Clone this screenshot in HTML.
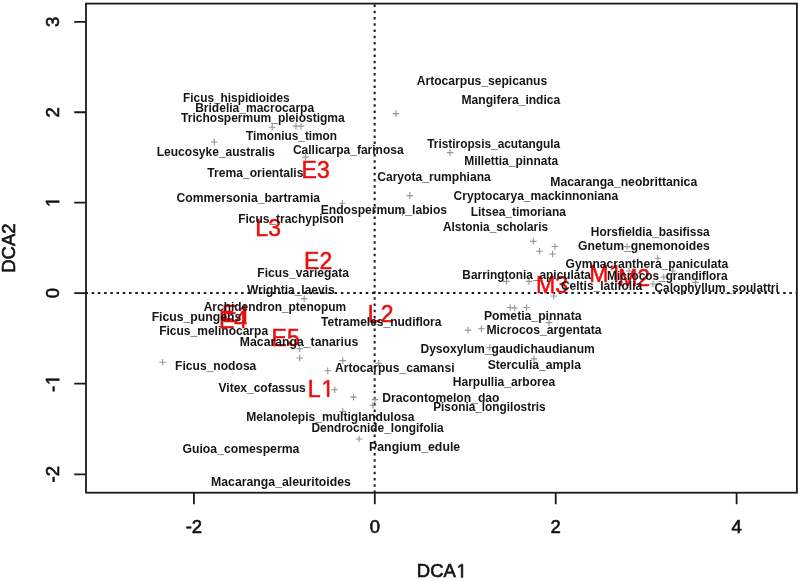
<!DOCTYPE html>
<html><head><meta charset="utf-8"><style>
html,body{margin:0;padding:0;background:#fff;overflow:hidden;}
svg{display:block;will-change:transform;}
.s{font-family:"Liberation Sans",sans-serif;font-weight:bold;font-size:12px;fill:#151515;}
.r{font-family:"Liberation Sans",sans-serif;font-size:23px;fill:#ee0c0c;stroke:#ee0c0c;stroke-width:0.5px;}
.a{font-family:"Liberation Sans",sans-serif;font-size:18.5px;fill:#111;stroke:#111;stroke-width:0.6px;}
</style></head><body>
<svg width="798" height="581" viewBox="0 0 798 581">
<rect width="798" height="581" fill="#fff"/>
<line x1="374.65" y1="4.56" x2="374.65" y2="492.7" stroke="#1a1a1a" stroke-width="2.0" stroke-dasharray="2.5 3.73"/>
<line x1="85.42" y1="293.10" x2="796.9" y2="293.10" stroke="#1a1a1a" stroke-width="2.0" stroke-dasharray="2.5 3.73"/>
<path d="M392.6 113.6h6.6M395.9 110.3v6.6M268.9 127.3h6.6M272.2 124.0v6.6M292.7 126.1h6.6M296.0 122.8v6.6M297.7 126.1h6.6M301.0 122.8v6.6M211.0 142.0h6.6M214.3 138.7v6.6M302.3 157.1h6.6M305.6 153.8v6.6M446.7 152.6h6.6M450.0 149.3v6.6M406.5 195.6h6.6M409.8 192.3v6.6M339.0 203.3h6.6M342.3 200.0v6.6M399.0 212.7h6.6M402.3 209.4v6.6M551.7 246.5h6.6M555.0 243.2v6.6M549.2 254.0h6.6M552.5 250.7v6.6M623.7 246.6h6.6M627.0 243.3v6.6M654.5 258.2h6.6M657.8 254.9v6.6M530.0 241.4h6.6M533.3 238.1v6.6M536.2 251.3h6.6M539.5 248.0v6.6M503.2 281.4h6.6M506.5 278.1v6.6M525.7 281.4h6.6M529.0 278.1v6.6M550.5 296.0h6.6M553.8 292.7v6.6M625.7 271.0h6.6M629.0 267.7v6.6M660.5 277.0h6.6M663.8 273.7v6.6M649.7 284.0h6.6M653.0 280.7v6.6M669.5 271.0h6.6M672.8 267.7v6.6M692.2 282.4h6.6M695.5 279.1v6.6M506.9 307.5h6.6M510.2 304.2v6.6M511.4 308.0h6.6M514.7 304.7v6.6M523.2 307.5h6.6M526.5 304.2v6.6M545.7 322.6h6.6M549.0 319.3v6.6M464.8 330.1h6.6M468.1 326.8v6.6M478.1 328.8h6.6M481.4 325.5v6.6M486.4 347.6h6.6M489.7 344.3v6.6M530.7 358.9h6.6M534.0 355.6v6.6M296.4 348.8h6.6M299.7 345.5v6.6M296.4 358.0h6.6M299.7 354.7v6.6M339.5 360.6h6.6M342.8 357.3v6.6M324.4 370.8h6.6M327.7 367.5v6.6M331.4 389.7h6.6M334.7 386.4v6.6M350.2 397.1h6.6M353.5 393.8v6.6M371.6 399.6h6.6M374.9 396.3v6.6M369.6 405.2h6.6M372.9 401.9v6.6M339.5 411.4h6.6M342.8 408.1v6.6M355.8 439.0h6.6M359.1 435.7v6.6M300.9 298.6h6.6M304.2 295.3v6.6M159.3 362.2h6.6M162.6 358.9v6.6M375.4 363.2h6.6M378.7 359.9v6.6" stroke="#959595" stroke-width="1.1" fill="none"/>
<text class="r" transform="translate(301.56 178.05) scale(1 1.04)">E3</text>
<text class="r" transform="translate(255.36 236.05) scale(1 1.04)">L3</text>
<text class="r" transform="translate(304.06 268.75) scale(1 1.04)">E2</text>
<text class="r" transform="translate(218.96 327.55) scale(1 1.04)">E4</text>
<text class="r" transform="translate(221.96 322.05) scale(1 1.04)">E</text>
<path d="M243.97 322.05L243.97 307.60L240.41 310.26L240.41 308.27L244.16 305.59L246.02 305.59L246.02 322.05Z" class="r"/>
<text class="r" transform="translate(271.56 345.85) scale(1 1.04)">E5</text>
<text class="r" transform="translate(367.86 322.15) scale(1 1.04)">L2</text>
<text class="r" transform="translate(307.66 396.65) scale(1 1.04)">L</text>
<path d="M327.12 396.65L327.12 382.20L323.56 384.86L323.56 382.87L327.31 380.19L329.17 380.19L329.17 396.65Z" class="r"/>
<text class="r" transform="translate(536.06 292.65) scale(1 1.04)">M3</text>
<text class="r" transform="translate(589.26 281.75) scale(1 1.04)">M</text>
<path d="M615.09 281.75L615.09 267.30L611.53 269.96L611.53 267.97L615.28 265.29L617.14 265.29L617.14 281.75Z" class="r"/>
<text class="r" transform="translate(618.16 286.15) scale(1 1.04)">M2</text>
<text class="s" transform="translate(416.75 85.10) scale(1.0093 1.04)">Artocarpus_sepicanus</text>
<text class="s" transform="translate(461.54 103.60) scale(1.0087 1.04)">Mangifera_indica</text>
<text class="s" transform="translate(183.06 102.00) scale(0.9874 1.04)">Ficus_hispidioides</text>
<text class="s" transform="translate(195.15 112.10) scale(1.0034 1.04)">Bridelia_macrocarpa</text>
<text class="s" transform="translate(181.05 122.30) scale(1.0025 1.04)">Trichospermum_pleiostigma</text>
<text class="s" transform="translate(246.05 140.40) scale(0.9858 1.04)">Timonius_timon</text>
<text class="s" transform="translate(156.75 156.20) scale(1.0021 1.04)">Leucosyke_australis</text>
<text class="s" transform="translate(292.90 153.60) scale(1 1.04)">Callicarpa_farinosa</text>
<text class="s" transform="translate(427.25 148.40) scale(0.9881 1.04)">Tristiropsis_acutangula</text>
<text class="s" transform="translate(464.15 164.70) scale(1 1.04)">Millettia_pinnata</text>
<text class="s" transform="translate(207.35 177.10) scale(1.0085 1.04)">Trema_orientalis</text>
<text class="s" transform="translate(377.20 180.70) scale(1.0094 1.04)">Caryota_rumphiana</text>
<text class="s" transform="translate(550.24 185.60) scale(1.0160 1.04)">Macaranga_neobrittanica</text>
<text class="s" transform="translate(453.60 200.00) scale(1.0043 1.04)">Cryptocarya_mackinnoniana</text>
<text class="s" transform="translate(176.49 202.10) scale(1.0160 1.04)">Commersonia_bartramia</text>
<text class="s" transform="translate(320.74 213.60) scale(1.0081 1.04)">Endospermum_labios</text>
<text class="s" transform="translate(470.65 215.90) scale(1 1.04)">Litsea_timoriana</text>
<text class="s" transform="translate(238.15 222.80) scale(0.9981 1.04)">Ficus_trachypison</text>
<text class="s" transform="translate(443.05 230.80) scale(0.9853 1.04)">Alstonia_scholaris</text>
<text class="s" transform="translate(590.86 236.10) scale(0.9904 1.04)">Horsfieldia_basifissa</text>
<text class="s" transform="translate(578.09 249.60) scale(1.0132 1.04)">Gnetum_gnemonoides</text>
<text class="s" transform="translate(257.34 277.10) scale(1.0100 1.04)">Ficus_variegata</text>
<text class="s" transform="translate(565.50 268.10) scale(1.0090 1.04)">Gymnacranthera_paniculata</text>
<text class="s" transform="translate(462.36 278.90) scale(0.9896 1.04)">Barringtonia_apiculata</text>
<text class="s" transform="translate(607.06 280.00) scale(0.9880 1.04)">Microcos_grandiflora</text>
<text class="s" transform="translate(246.90 293.80) scale(1 1.04)">Wrightia_laevis</text>
<text class="s" transform="translate(560.90 290.20) scale(1 1.04)">Celtis_latifolia</text>
<text class="s" transform="translate(654.51 291.60) scale(0.9863 1.04)">Calophyllum_soulattri</text>
<text class="s" transform="translate(203.75 311.30) scale(0.9947 1.04)">Archidendron_ptenopum</text>
<text class="s" transform="translate(151.64 321.00) scale(1.0190 1.04)">Ficus_pungens</text>
<text class="s" transform="translate(321.05 325.60) scale(1 1.04)">Tetrameles_nudiflora</text>
<text class="s" transform="translate(483.94 319.90) scale(1.0173 1.04)">Pometia_pinnata</text>
<text class="s" transform="translate(159.15 334.70) scale(1.0028 1.04)">Ficus_melinocarpa</text>
<text class="s" transform="translate(486.44 333.90) scale(1.0160 1.04)">Microcos_argentata</text>
<text class="s" transform="translate(239.83 345.70) scale(1.0205 1.04)">Macaranga_tanarius</text>
<text class="s" transform="translate(175.04 369.50) scale(1.0087 1.04)">Ficus_nodosa</text>
<text class="s" transform="translate(420.44 352.70) scale(1.0073 1.04)">Dysoxylum_gaudichaudianum</text>
<text class="s" transform="translate(334.95 372.00) scale(1.0085 1.04)">Artocarpus_camansi</text>
<text class="s" transform="translate(487.69 368.90) scale(1.0142 1.04)">Sterculia_ampla</text>
<text class="s" transform="translate(452.75 386.40) scale(1.0044 1.04)">Harpullia_arborea</text>
<text class="s" transform="translate(218.55 392.30) scale(1 1.04)">Vitex_cofassus</text>
<text class="s" transform="translate(382.24 402.00) scale(1.0109 1.04)">Dracontomelon_dao</text>
<text class="s" transform="translate(433.16 410.70) scale(0.9871 1.04)">Pisonia_longilostris</text>
<text class="s" transform="translate(246.25 420.60) scale(1.0060 1.04)">Melanolepis_multiglandulosa</text>
<text class="s" transform="translate(311.46 431.60) scale(0.9932 1.04)">Dendrocnide_longifolia</text>
<text class="s" transform="translate(369.03 450.80) scale(1.0286 1.04)">Pangium_edule</text>
<text class="s" transform="translate(182.49 453.00) scale(1.0197 1.04)">Guioa_comesperma</text>
<text class="s" transform="translate(211.03 486.40) scale(1.0233 1.04)">Macaranga_aleuritoides</text>
<rect x="86.0" y="3.6" width="710.9" height="489.09999999999997" fill="none" stroke="#1a1a1a" stroke-width="1.8"/>
<path d="M193.90 492.7V504.3M374.80 492.7V504.3M555.70 492.7V504.3M736.60 492.7V504.3M86.0 474.30H74.2M86.0 383.70H74.2M86.0 293.10H74.2M86.0 202.67H74.2M86.0 112.24H74.2M86.0 21.81H74.2" stroke="#1a1a1a" stroke-width="1.8" fill="none"/>
<text class="a" transform="translate(185.68 532.70) scale(1 1.04)">-2</text>
<text class="a" transform="translate(369.66 532.70) scale(1 1.04)">0</text>
<text class="a" transform="translate(550.56 532.70) scale(1 1.04)">2</text>
<text class="a" transform="translate(731.46 532.70) scale(1 1.04)">4</text>
<g transform="translate(59.2 474.30) rotate(-90)"><text class="a" transform="translate(-8.22 0.00) scale(1 1.04)">-2</text></g>
<g transform="translate(59.2 383.70) rotate(-90)"><text class="a" transform="translate(-8.22 0.00) scale(1 1.04)">-</text><path d="M3.30 0.00L3.30 -11.62L0.43 -9.49L0.43 -11.08L3.45 -13.24L4.95 -13.24L4.95 0.00Z" class="a"/></g>
<g transform="translate(59.2 293.10) rotate(-90)"><text class="a" transform="translate(-5.14 0.00) scale(1 1.04)">0</text></g>
<g transform="translate(59.2 202.67) rotate(-90)"><path d="M0.22 0.00L0.22 -11.62L-2.65 -9.49L-2.65 -11.08L0.37 -13.24L1.87 -13.24L1.87 0.00Z" class="a"/></g>
<g transform="translate(59.2 112.24) rotate(-90)"><text class="a" transform="translate(-5.14 0.00) scale(1 1.04)">2</text></g>
<g transform="translate(59.2 21.81) rotate(-90)"><text class="a" transform="translate(-5.14 0.00) scale(1 1.04)">3</text></g>
<text class="a" transform="translate(416.78 577.40) scale(1 1.04)">DCA</text>
<path d="M461.20 577.40L461.20 565.78L458.33 567.91L458.33 566.32L461.35 564.16L462.85 564.16L462.85 577.40Z" class="a"/>
<g transform="translate(15.3 248.15) rotate(-90)"><text class="a" transform="translate(-24.67 0.00) scale(1 1.04)">DCA2</text></g>
</svg></body></html>
